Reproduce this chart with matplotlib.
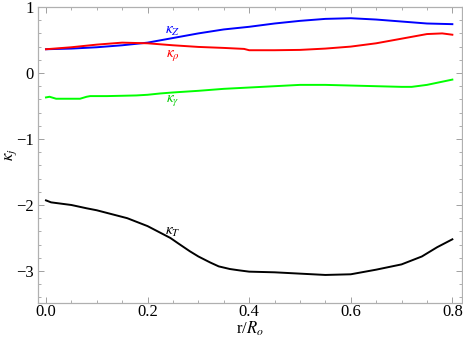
import numpy as np
import matplotlib
matplotlib.use("Agg")
import matplotlib.pyplot as plt
from matplotlib.ticker import MultipleLocator

plt.rcParams['font.family'] = ['Liberation Serif', 'DejaVu Serif']
plt.rcParams['mathtext.fontset'] = 'stix'

# kappa_Z (bleu)
r_z = [0, 0.05, 0.1, 0.15, 0.2, 0.25, 0.3, 0.35, 0.4, 0.45, 0.5, 0.55, 0.6, 0.65, 0.7, 0.75, 0.8]
k_z = [0.36, 0.37, 0.39, 0.42, 0.46, 0.53, 0.60, 0.66, 0.70, 0.75, 0.79, 0.82, 0.83, 0.81, 0.78, 0.75, 0.74]

# kappa_rho (rouge)
r_rho = [0, 0.05, 0.1, 0.15, 0.2, 0.25, 0.3, 0.35, 0.39, 0.40, 0.45, 0.5, 0.55, 0.6, 0.65, 0.7, 0.75, 0.78, 0.8]
k_rho = [0.36, 0.39, 0.43, 0.46, 0.45, 0.42, 0.395, 0.38, 0.365, 0.345, 0.345, 0.35, 0.37, 0.40, 0.45, 0.52, 0.59, 0.60, 0.58]

# kappa_gamma (vert)
r_g = [0, 0.007, 0.02, 0.04, 0.067, 0.08, 0.087, 0.12, 0.15, 0.178, 0.2, 0.225, 0.25, 0.3, 0.35, 0.4,
       0.45, 0.5, 0.55, 0.6, 0.65, 0.7, 0.72, 0.75, 0.8]
k_g = [-0.37, -0.36, -0.39, -0.39, -0.39, -0.36, -0.35, -0.35, -0.345, -0.34, -0.33, -0.31, -0.295, -0.27, -0.24, -0.22,
       -0.20, -0.18, -0.18, -0.19, -0.20, -0.21, -0.21, -0.18, -0.10]

# kappa_T (noir)
r_t = [0, 0.01, 0.03, 0.05, 0.08, 0.1, 0.13, 0.16, 0.2, 0.23, 0.245, 0.26, 0.283, 0.3, 0.323, 0.34, 0.362,
       0.38, 0.4, 0.45, 0.5, 0.55, 0.6, 0.65, 0.7, 0.74, 0.77, 0.8]
k_t = [-1.93, -1.96, -1.98, -2.00, -2.05, -2.08, -2.14, -2.20, -2.32, -2.44, -2.50, -2.58, -2.70, -2.78, -2.87, -2.93, -2.97,
       -2.99, -3.01, -3.02, -3.04, -3.06, -3.05, -2.98, -2.90, -2.78, -2.64, -2.52]

fig = plt.figure(figsize=(4.63, 3.38), dpi=100)
ax = fig.add_axes([38/463, 35/338, 424/463, 296/338])

lw = 1.4
ax.plot(r_z, k_z, color=(0, 0, 1), lw=lw)
ax.plot(r_rho, k_rho, color=(1, 0, 0), lw=lw)
ax.plot(r_g, k_g, color=(0, 1, 0), lw=lw)
ax.plot(r_t, k_t, color='black', lw=lw)

# Etiquettes des courbes
ax.text(0.25, 0.63, r'$\kappa_Z$', color=(0, 0, 1), fontsize=11, ha='center', va='center')
ax.text(0.25, 0.27, r'$\kappa_\rho$', color=(1, 0, 0), fontsize=11, ha='center', va='center')
ax.text(0.25, -0.41, r'$\kappa_\gamma$', color=(0, 0.8, 0), fontsize=11, ha='center', va='center')
ax.text(0.25, -2.42, r'$\kappa_T$', color='black', fontsize=11, ha='center', va='center')

ax.set_xlim(-0.0157, 0.819)
ax.set_ylim(-3.485, 1.0)
ax.xaxis.set_major_locator(MultipleLocator(0.2))
ax.xaxis.set_minor_locator(MultipleLocator(0.05))
ax.yaxis.set_major_locator(MultipleLocator(1))
ax.yaxis.set_minor_locator(MultipleLocator(0.2))
ax.xaxis.set_major_formatter(matplotlib.ticker.FormatStrFormatter('%.1f'))

for s in ax.spines.values():
    s.set_color('#b0b0b0')
    s.set_linewidth(0.9)
ax.tick_params(which='both', direction='in', color='#a0a0a0', top=True, right=True,
               labelsize=12)
ax.tick_params(axis='x', pad=1)
ax.tick_params(axis='y', pad=3)
ax.tick_params(which='major', length=4, width=0.7)
ax.tick_params(which='minor', length=2, width=0.6)

ax.set_xlabel(r'r/$R_o$', fontsize=12)
ax.xaxis.set_label_coords(0.5, -26/296)
ax.xaxis.label.set_va('center')
ax.set_ylabel(r'$\kappa_j$', fontsize=12)
ax.yaxis.set_label_coords(-27/424, 0.5)
ax.yaxis.label.set_va('center')

plt.savefig('out.png', dpi=100)
